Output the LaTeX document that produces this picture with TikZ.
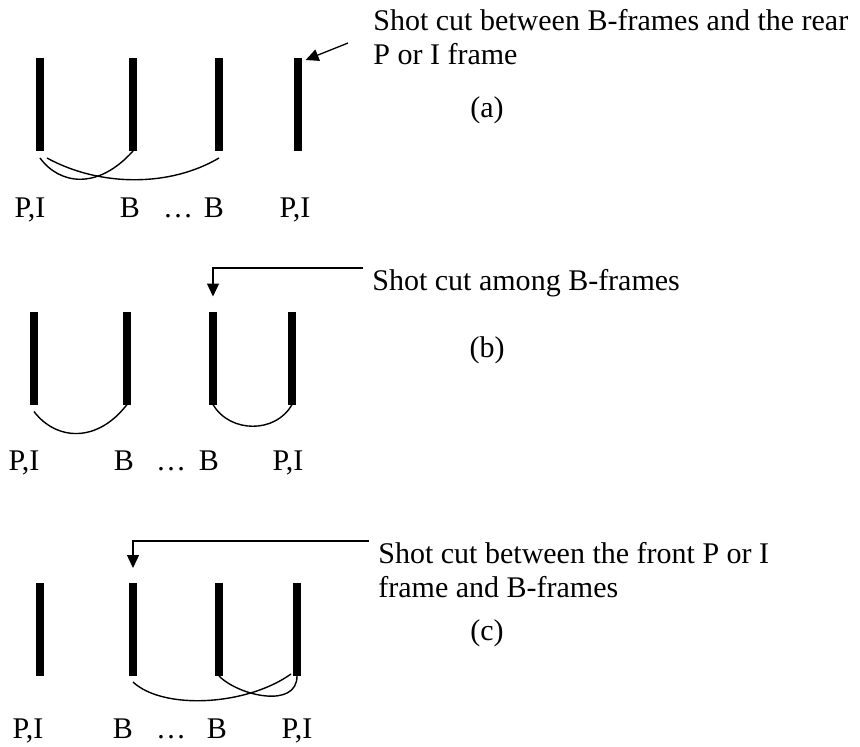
\documentclass[tikz,border=0pt]{standalone}
\usepackage{fontspec}
\setmainfont{Liberation Serif}
\usetikzlibrary{arrows.meta,positioning}

\begin{document}
\begin{tikzpicture}[
    x=0.5pt, y=-0.5pt,
    bar/.style={fill=black, minimum width=3.6pt, minimum height=46.5pt, inner sep=0pt, outer sep=0pt},
    lbl/.style={anchor=base, inner sep=0pt, font=\fontsize{15}{17}\selectfont},
    tag/.style={inner sep=0pt, font=\fontsize{15}{17}\selectfont},
    note/.style={align=left, anchor=base west, inner sep=0pt, font=\fontsize{15}{17}\selectfont},
    pred/.style={line width=0.7pt},
    cut/.style={-{Triangle[length=6.5pt, width=6pt]}, line width=0.65pt}
]
\useasboundingbox (0,0) rectangle (860,746);

\node[bar] (a1) at (40,104.5) {};
\node[bar] (a2) at (133,104.5) {};
\node[bar] (a3) at (219,104.5) {};
\node[bar] (a4) at (298,104.5) {};
\node[lbl] (api1) at (30,217) {P,I};
\node[lbl] (ab1) at (130,217) {B};
\node[lbl] (adots) at (178,217) {…};
\node[lbl] (ab2) at (214,217) {B};
\node[lbl] (api2) at (295,217) {P,I};
\node[note] (anote) at (373,64) {Shot cut between B-frames and the rear\\P or I frame};
\node[tag] (acap) at (487,110) {(a)};
\coordinate (acut) at (348,43);
\draw[pred] ([shift={(0,7)}]a1.south) .. controls +(20,27) and +(-35,39) .. (a2.south);
\draw[pred] ([shift={(7,7)}]a1.south) .. controls +(53,29) and +(-49,29) .. ([shift={(0,7)}]a3.south);
\draw[cut] (acut) -- ([shift={(4,2)}]a4.north east);

\node[bar] (b1) at (34,358) {};
\node[bar] (b2) at (127,358) {};
\node[bar] (b3) at (213,358) {};
\node[bar] (b4) at (292,358) {};
\node[lbl] (bpi1) at (24,470) {P,I};
\node[lbl] (bb1) at (124,470) {B};
\node[lbl] (bdots) at (171,470) {…};
\node[lbl] (bb2) at (209,470) {B};
\node[lbl] (bpi2) at (288,470) {P,I};
\node[note] (bnote) at (372,290) {Shot cut among B-frames};
\node[tag] (bcap) at (487,350) {(b)};
\coordinate (bcut) at (363,268);
\draw[pred] ([shift={(0,7)}]b1.south) .. controls +(22,29) and +(-30,39) .. (b2.south);
\draw[pred] (b3.south) .. controls +(17,29) and +(-16,29) .. (b4.south);
\draw[cut] (bcut) -| ([yshift=7.5pt]b3.north);

\node[bar] (c1) at (40,629.5) {};
\node[bar] (c2) at (133,629.5) {};
\node[bar] (c3) at (219,629.5) {};
\node[bar] (c4) at (297,629.5) {};
\node[lbl] (cpi1) at (28,738) {P,I};
\node[lbl] (cb1) at (123,738) {B};
\node[lbl] (cdots) at (171,738) {…};
\node[lbl] (cb2) at (217,738) {B};
\node[lbl] (cpi2) at (297,738) {P,I};
\node[note] (cnote) at (378,597) {Shot cut between the front P or I\\frame and B-frames};
\node[tag] (ccap) at (487,633) {(c)};
\coordinate (ccut) at (369,541);
\draw[pred] ([shift={(0,6)}]c2.south) .. controls +(30,28) and +(-45,32) .. ([shift={(-6,-2)}]c4.south);
\draw[pred] (c3.south) .. controls +(20,20) and +(0,33) .. (c4.south);
\draw[cut] (ccut) -| ([yshift=7.5pt]c2.north);
\end{tikzpicture}
\end{document}
